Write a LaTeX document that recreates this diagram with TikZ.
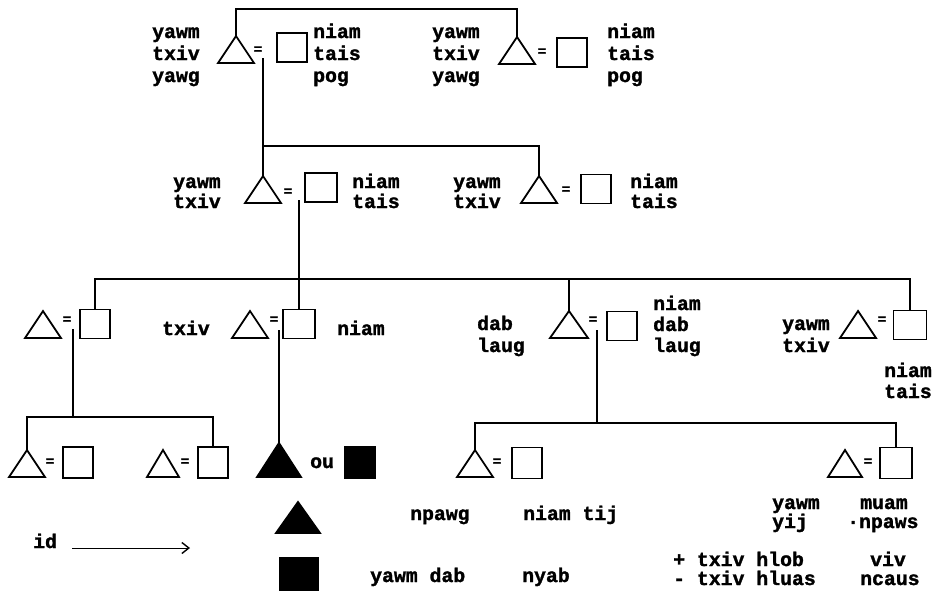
\documentclass[tikz,border=0pt]{standalone}
\usepackage{fontspec}
\newfontfamily\tw{Liberation Mono}[BoldFeatures={FakeBold=1.5}]
\usetikzlibrary{arrows.meta,calc}
\tikzset{
  lk/.style={line width=1.7pt},
  sqbox/.style={draw, line width=1.8pt, minimum width=30pt, minimum height=29pt, inner sep=0pt},
  fsq/.style={sqbox, fill=black},
  tx/.style={font=\tw\bfseries\fontsize{19.8}{20}\selectfont, inner sep=0pt, anchor=base west},
  eq/.style={font=\tw\bfseries\fontsize{14}{14}\selectfont, inner sep=0pt},
  tristyle/.style={line width=1.8pt, line join=miter},
}
% triangle: [style]{name}{apex x}{apex y}{half width}
\newcommand\trio[5][]{%
  \coordinate (#2) at (#3,#4);
  \draw[tristyle,#1] (#2) -- ++(#5,27) -- ++(-2*#5,0) -- cycle;}
% text lines: {name}{x}{first baseline}{line step}{list}
\newcommand\lbl[5]{%
  \foreach \t [count=\i] in {#5} {\node[tx] (#1-\i) at (#2,{#3+(\i-1)*#4}) {\t};}}
\begin{document}
\begin{tikzpicture}[x=1pt,y=-1pt]
\useasboundingbox (0,0) rectangle (934,600);
\fill[white] (0,0) rectangle (934,600);
% ---------- generation 1
\trio{tA}{236}{36}{18}
\node[eq] (eA) at (258,50) {=};
\node[sqbox] (sA) at (292,47.5) {};
\lbl{lA}{152}{38}{22}{yawm,txiv,yawg}
\lbl{rA}{313}{38}{22}{niam,tais,pog}
\trio{tB}{517}{37}{18}
\node[eq] (eB) at (542,52) {=};
\node[sqbox] (sB) at (572,52.5) {};
\lbl{lB}{432}{38}{22}{yawm,txiv,yawg}
\lbl{rB}{607}{38}{22}{niam,tais,pog}
\coordinate (bar1) at (380,9);
\draw[lk] (tA) |- (bar1) -| (tB);
% ---------- generation 2
\trio{tC}{263}{176}{18}
\node[eq] (eC) at (288,192) {=};
\node[sqbox, minimum width=32pt] (sC) at (321,187.5) {};
\lbl{lC}{173}{188}{20}{yawm,txiv}
\lbl{rC}{352}{188}{20}{niam,tais}
\trio{tD}{539}{176}{18}
\node[eq] (eD) at (566,190) {=};
\node[sqbox] (sD) at (596,189) {};
\lbl{lD}{453}{188}{20}{yawm,txiv}
\lbl{rD}{630}{188}{20}{niam,tais}
\coordinate (dA) at (263,58);
\coordinate (bar2) at (400,146);
\draw[lk] (dA) -- (tC);
\draw[lk] (dA |- bar2) -| (tD);
% ---------- generation 3
\trio{tF1}{43}{311}{18}
\node[eq] (eF1) at (67,320) {=};
\node[sqbox] (sF1) at (95,324) {};
\trio{tF2}{250}{311}{18}
\node[eq] (eF2) at (274,320) {=};
\node[sqbox, minimum width=32pt] (sF2) at (299,324) {};
\node[tx] (kF2) at (162,335) {txiv};
\node[tx] (nF2) at (337,335) {niam};
\trio{tF3}{569}{311}{19}
\node[eq] (eF3) at (593,320) {=};
\node[sqbox] (sF3) at (622,326) {};
\lbl{lF3}{477}{330}{22}{dab,laug}
\lbl{rF3}{653}{310}{21}{niam,dab,laug}
\trio{tF4}{858}{311}{18}
\node[eq] (eF4) at (882,320) {=};
\node[sqbox, minimum width=33pt] (sF4) at (910,325) {};
\lbl{lF4}{782}{330}{22}{yawm,txiv}
\lbl{rF4}{884}{377}{21}{niam,tais}
\coordinate (dC) at (299,200);
\draw[lk] (dC) -- (sF2.north);
\coordinate (bar3) at (500,279);
\draw[lk] (sF1.north) |- (bar3) -| (sF4.north);
\draw[lk] (tF3) -- (tF3 |- bar3);
% ---------- generation 4
\trio{tG1}{27}{450}{18}
\node[eq] (eG1) at (50,462) {=};
\node[sqbox, minimum height=31pt] (sG1) at (78,462.5) {};
\trio{tG2}{163}{450}{16}
\node[eq] (eG2) at (185,462) {=};
\node[sqbox, minimum height=31pt] (sG2) at (213,462.5) {};
\coordinate (tFill) at (279,443);
\draw[tristyle, fill=black] (tFill) -- ++(22,34) -- ++(-44,0) -- cycle;
\node[tx] (ou) at (310,468) {ou};
\node[fsq, minimum height=31pt] (sFill) at (360,462.5) {};
\trio{tH1}{475}{450}{18}
\node[eq] (eH1) at (497,462) {=};
\node[sqbox, minimum height=31pt] (sH1) at (527,463) {};
\trio{tH2}{845}{450}{17}
\node[eq] (eH2) at (868,462) {=};
\node[sqbox, minimum width=32pt, minimum height=31pt] (sH2) at (896,463) {};
\coordinate (dF1) at (73,329);
\coordinate (bar4) at (120,417);
\draw[lk] (dF1) -- (dF1 |- bar4);
\draw[lk] (tG1) |- (bar4) -| (sG2.north);
\coordinate (dF2) at (279,330);
\draw[lk] (dF2) -- (tFill);
\coordinate (dF3) at (597,330);
\coordinate (bar5) at (600,423);
\draw[lk] (dF3) -- (dF3 |- bar5);
\draw[lk] (tH1) |- (bar5) -| (sH2.north);
% ---------- legend
\node[tx] (id) at (33,548) {id};
\coordinate (arS) at (72,548);
\coordinate (arE) at (190,548);
\draw[line width=1pt, -{Straight Barb[length=7pt,width=11pt,line width=1.4pt]}] (arS) -- (arE);
\coordinate (legT) at (298,502);
\draw[tristyle, fill=black] (legT) -- ++(22,31) -- ++(-44,0) -- cycle;
\node[fsq, minimum width=38pt, minimum height=32pt] (legS) at (299,574) {};
\node[tx] (npawg) at (410,520) {npawg};
\node[tx] (niamtij) at (523,520) {niam tij};
\node[tx] (yawmdab) at (370,582) {yawm dab};
\node[tx] (nyab) at (522,582) {nyab};
\lbl{lY}{772}{509}{19}{yawm,yij}
\node[tx] (muam) at (860,509) {muam};
\node[tx] (npaws) at (847,528) {·npaws};
\lbl{lT}{673}{566}{19}{+ txiv hlob,- txiv hluas}
\node[tx] (viv) at (870,566) {viv};
\node[tx] (ncaus) at (860,585) {ncaus};
\end{tikzpicture}
\end{document}
